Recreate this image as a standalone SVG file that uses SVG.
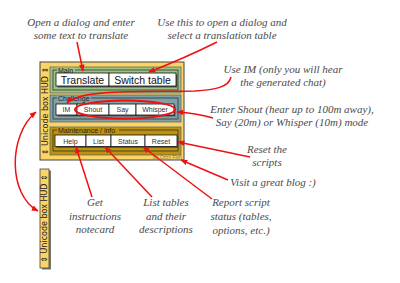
<svg xmlns="http://www.w3.org/2000/svg" width="400" height="283" viewBox="0 0 400 283">
<defs>
<style>
.note{font-family:"Liberation Serif",serif;font-style:italic;font-size:11px;fill:#4a4a4a;text-anchor:middle}
.btn{fill:#fff;stroke:#111;stroke-width:0.8}
.shadow{fill:#555}
.btxt{font-family:"Liberation Sans",Arial,sans-serif;fill:#111;text-anchor:middle}
.big{font-size:10.5px}
.small{font-size:7px;fill:#333}
.lbl{font-family:"Liberation Sans",Arial,sans-serif;font-size:7px;fill:#222}
.frame{fill:none;stroke:#333;stroke-width:0.8}
.vt{font-family:"DejaVu Sans",sans-serif;font-size:8px;fill:#222;text-anchor:middle}
.arrow{fill:none;stroke:#f01010;stroke-width:1.5;marker-end:url(#ah)}
</style>
<marker id="ah" viewBox="0 0 10 10" refX="9" refY="5" markerWidth="7" markerHeight="7" markerUnits="userSpaceOnUse" orient="auto-start-reverse">
<path d="M0,1 L10,5 L0,9 Z" fill="#f01010"/>
</marker>
</defs>
<rect width="400" height="283" fill="#fff"/>

<g id="notes">
<text class="note" x="81" y="26">Open a dialog and enter</text>
<text class="note" x="81" y="39">some text to translate</text>
<text class="note" x="222" y="26">Use this to open a dialog and</text>
<text class="note" x="222" y="39">select a translation table</text>
<text class="note" x="283" y="73">Use IM (only you will hear</text>
<text class="note" x="283" y="86">the generated chat)</text>
<text class="note" x="292" y="113">Enter Shout (hear up to 100m away),</text>
<text class="note" x="292" y="126">Say (20m) or Whisper (10m) mode</text>
<text class="note" x="267" y="153">Reset the</text>
<text class="note" x="267" y="166">scripts</text>
<text class="note" x="273" y="186">Visit a great blog :)</text>
<text class="note" x="241" y="206">Report script</text>
<text class="note" x="241" y="220">status (tables,</text>
<text class="note" x="241" y="234">options, etc.)</text>
<text class="note" x="95" y="206">Get</text>
<text class="note" x="95" y="220">instructions</text>
<text class="note" x="95" y="233">notecard</text>
<text class="note" x="166" y="206">List tables</text>
<text class="note" x="166" y="220">and their</text>
<text class="note" x="166" y="233">descriptions</text>
</g>

<g id="hud">
<rect x="40" y="62" width="144" height="98" fill="#fad565" stroke="#444" stroke-width="1"/>
<text class="vt" transform="translate(47.5,111) rotate(-90)">⇕ Unicode box HUD ⇕</text>
<text x="153" y="159" font-family="Liberation Sans,sans-serif" font-size="5" fill="#8a7a40">by Ozzy Fish</text>
</g>

<g id="main">
<rect x="50" y="67" width="131" height="26" fill="#9dc383" stroke="#666" stroke-width="0.8"/>
<rect class="frame" x="53" y="70" width="125" height="20"/>
<rect x="57" y="67.5" width="18" height="5" fill="#9dc383"/>
<text class="lbl" x="58" y="72.5">Main</text>
<rect class="shadow" x="57.5" y="74.5" width="120" height="13"/>
<rect class="btn" x="56" y="73" width="53" height="13"/>
<rect class="btn" x="109" y="73" width="67" height="13"/>
<text class="btxt big" x="82.5" y="83.5">Translate</text>
<text class="btxt big" x="142.5" y="83.5">Switch table</text>
</g>

<g id="challenge">
<rect x="50" y="95" width="131" height="27" fill="#7fa2a9" stroke="#666" stroke-width="0.8"/>
<rect class="frame" x="53" y="98" width="125" height="21"/>
<rect x="57" y="95.5" width="34" height="5" fill="#7fa2a9"/>
<text class="lbl" x="58" y="101">Challenge</text>
<rect class="shadow" x="57.5" y="105.5" width="118" height="11"/>
<rect class="btn" x="56" y="104" width="21" height="11"/>
<rect class="btn" x="77" y="104" width="32" height="11"/>
<rect class="btn" x="109" y="104" width="27" height="11"/>
<rect class="btn" x="136" y="104" width="38" height="11"/>
<text class="btxt small" x="66.5" y="112">IM</text>
<text class="btxt small" x="93" y="112">Shout</text>
<text class="btxt small" x="122.5" y="112">Say</text>
<text class="btxt small" x="155" y="112">Whisper</text>
</g>

<g id="maintenance">
<rect x="50" y="127" width="131" height="28" fill="#bc920e" stroke="#666" stroke-width="0.8"/>
<rect class="frame" x="53" y="130" width="125" height="21"/>
<rect x="57" y="127.5" width="62" height="5" fill="#bc920e"/>
<text class="lbl" x="58" y="133">Maintenance / info</text>
<rect class="shadow" x="56.5" y="136.5" width="122" height="11.5"/>
<rect class="btn" x="55" y="135" width="31" height="11.5"/>
<rect class="btn" x="86" y="135" width="25" height="11.5"/>
<rect class="btn" x="111" y="135" width="34" height="11.5"/>
<rect class="btn" x="145" y="135" width="32" height="11.5"/>
<text class="btxt small" x="70.5" y="143.5">Help</text>
<text class="btxt small" x="98.5" y="143.5">List</text>
<text class="btxt small" x="128" y="143.5">Status</text>
<text class="btxt small" x="161" y="143.5">Reset</text>
</g>

<g id="collapsed-hud">
<rect x="42" y="170.5" width="9" height="99" fill="#777"/>
<rect x="40" y="169" width="9" height="99" fill="#fad565" stroke="#444" stroke-width="0.8"/>
<text class="vt" transform="translate(47.3,218.5) rotate(-90)">⇕ Unicode box HUD ⇕</text>
</g>

<g id="connectors">
<ellipse cx="125" cy="109.5" rx="50" ry="9" fill="none" stroke="#f01010" stroke-width="2"/>
<path class="arrow" d="M77,42 L83,71"/>
<path class="arrow" d="M217,42 Q185,58 149,72"/>
<path class="arrow" d="M231,77 C229,87 215,90 195,91 C140,92 80,89 67,103"/>
<path class="arrow" d="M213,118 Q195,113 177,112"/>
<path class="arrow" d="M250,157 L178,142"/>
<path class="arrow" d="M228,180 L181,160"/>
<path class="arrow" d="M212,199 L143,147"/>
<path class="arrow" d="M152,197 L105,147"/>
<path class="arrow" d="M92,197 L76,147"/>
<path class="arrow" d="M36,112 C8,135 8,195 38,211" style="marker-start:url(#ah)"/>
</g>
</svg>
